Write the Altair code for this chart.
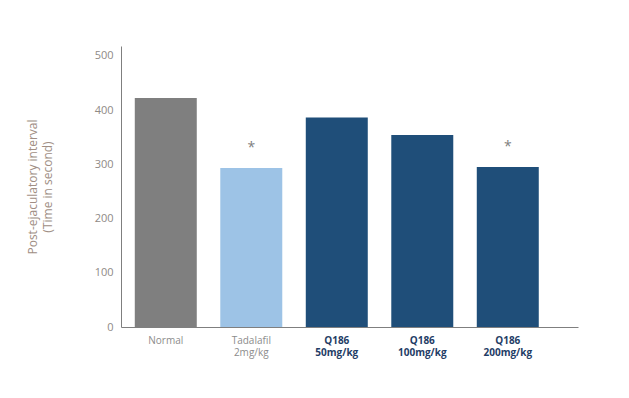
import altair as alt
import pandas as pd

categories = ["Normal", "Tadalafil|2mg/kg", "Q186|50mg/kg", "Q186|100mg/kg", "Q186|200mg/kg"]
values = [422, 293, 386, 354, 295]
significance = ["", "*", "", "", "*"]
colors = ["#7f7f7f", "#9dc3e6", "#1f4e79", "#1f4e79", "#1f4e79"]

df = pd.DataFrame({"cat": categories, "val": values, "sig": significance, "color": colors})

font = "Open Sans"

x = alt.X(
    "cat:N",
    sort=categories,
    title=None,
    scale=alt.Scale(paddingInner=0.275, paddingOuter=0.31, align=0.26),
    axis=alt.Axis(
        labelExpr="split(datum.label, '|')",
        labelAngle=0,
        labelFontSize=10,
        labelFont=font,
        labelColor={"condition": {"test": "indexof(datum.value, 'Q186') >= 0", "value": "#1f3d66"}, "value": "#8c8c8c"},
        labelFontWeight={"condition": {"test": "indexof(datum.value, 'Q186') >= 0", "value": "bold"}, "value": "normal"},
        ticks=False,
        domainColor="#7f7f7f",
        labelPadding=8,
        labelLineHeight=12,
    ),
)

bars = alt.Chart(df).mark_bar().encode(
    x=x,
    y=alt.Y(
        "val:Q",
        scale=alt.Scale(domain=[0, 518], nice=False),
        title=["Post-ejaculatory interval", "(Time in second)"],
        axis=alt.Axis(
            values=[0, 100, 200, 300, 400, 500],
            grid=False,
            ticks=False,
            domainColor="#7f7f7f",
            labelColor="#8f8a86",
            labelFontSize=11,
            labelFont=font,
            labelPadding=8,
            titleFont=font,
            titleFontSize=12,
            titleFontWeight="normal",
            titleColor="#a08e84",
            titlePadding=40,
            titleLineHeight=15,
        ),
    ),
    color=alt.Color("color:N", scale=None),
)

stars = alt.Chart(df).mark_text(dy=-20, fontSize=14, color="#7f7f7f", font=font).encode(
    x=alt.X("cat:N", sort=categories),
    y="val:Q",
    text="sig:N",
)

chart = (
    alt.layer(bars, stars)
    .properties(width=457, height=281, autosize=alt.AutoSizeParams(type="none"),
                padding={"left": 113, "top": 38, "right": 40, "bottom": 50})
    .configure_view(stroke=None)
)

chart.save("out.html", embed_options={"renderer": "svg", "actions": False})
